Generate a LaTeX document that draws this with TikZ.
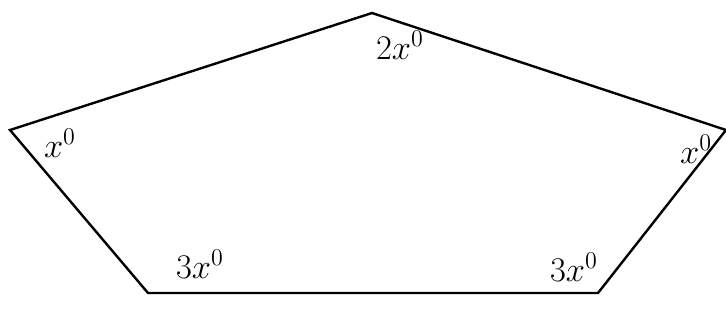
\documentclass[tikz,border=0pt]{standalone}
\usepackage{amsmath}
\usepackage{tikz}
\usetikzlibrary{positioning}
\tikzset{
  edge/.style ={line width=1.2pt, draw=black, line join=miter},
  ang/.style  ={inner sep=0pt, font=\fontsize{17}{20}\selectfont},
}

\begin{document}
\begin{tikzpicture}[x=0.5pt, y=-0.5pt]
  \useasboundingbox (0,0) rectangle (726,322);
  \coordinate (top) at (372,13);
  \coordinate (rt)  at (726,130);
  \coordinate (br)  at (598,293);
  \coordinate (bl)  at (148,293);
  \coordinate (lt)  at (10,130);

  \draw[edge] (top) -- (rt) -- (br) -- (bl) -- (lt) -- cycle;

  \node[ang] (atop) at (400,45)  {$2x^0$};
  \node[ang] (alt)  at (60,143)  {$x^0$};
  \node[ang] (art)  at (696,149) {$x^0$};
  \node[ang] (abl)  at (200,264) {$3x^0$};
  \node[ang] (abr)  at (574,267) {$3x^0$};
\end{tikzpicture}
\end{document}
